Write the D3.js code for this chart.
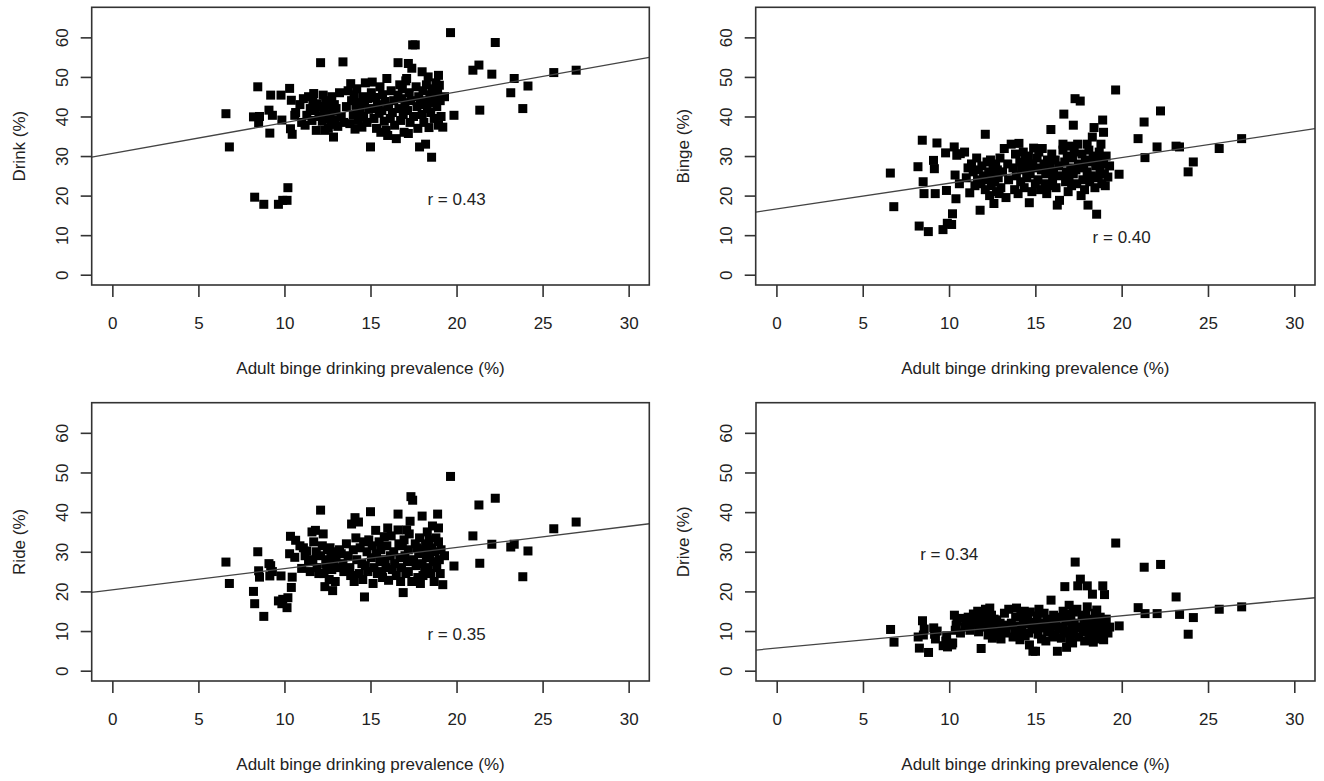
<!DOCTYPE html>
<html>
<head>
<meta charset="utf-8">
<script src="https://cdn.jsdelivr.net/npm/d3@7"></script>
<style>
  body { margin: 0; background: #fff; }
  svg text { font-family: "Liberation Sans", Arial, sans-serif; fill: #222; }
</style>
</head>
<body>
<svg id="chart" width="1324" height="781"></svg>
<script>
// ---- data ----
const prevalence = [
  6.6, 6.8, 8.2, 8.27, 8.45, 8.5, 8.55, 8.8, 9.1, 9.15, 9.2, 9.3, 9.65, 9.8, 9.85, 9.9, 10.15, 10.2, 10.3, 10.35, 10.4, 10.45, 10.6, 10.65,
  10.9, 11.0, 11.1, 11.2, 11.3, 11.4, 11.5, 11.6, 11.65, 11.7, 11.8, 11.85, 11.9, 12.0,
  12.1, 12.1, 12.2, 12.25, 12.3, 12.35, 12.4, 12.45, 12.5, 12.55, 12.6, 12.65, 12.7, 12.75, 12.8, 12.85, 12.9, 12.95, 13.0, 13.1, 13.2, 13.3, 13.4, 13.45,
  13.6, 13.7, 13.8, 13.85, 13.9, 14.0, 14.05, 14.1, 14.15, 14.2, 14.3, 14.35, 14.4, 14.5, 14.55, 14.6, 14.65, 14.7, 14.8, 14.85, 14.9, 15.0,
  15.05, 15.1, 15.15, 15.2, 15.3, 15.35, 15.4, 15.5, 15.55, 15.6, 15.66, 15.7, 15.8, 15.85, 15.9, 15.95, 16.0, 16.05, 16.15, 16.2, 16.27, 16.35, 16.4, 16.5,
  16.6, 16.6, 16.65, 16.7, 16.75, 16.8, 16.85, 16.9, 16.95, 17.0, 17.05, 17.1, 17.15, 17.2, 17.2, 17.25, 17.3, 17.35, 17.4, 17.45, 17.5, 17.6, 17.65, 17.7, 17.75, 17.8, 17.85, 17.9,
  18.0, 18.0, 18.05, 18.1, 18.15, 18.2, 18.25, 18.3, 18.35, 18.4, 18.45, 18.5, 18.55, 18.6, 18.65, 18.7, 18.75, 18.8, 18.85, 18.9, 18.95, 18.95, 19.0, 19.05, 19.1, 19.2, 19.3,
  19.65, 19.85, 20.95, 21.3, 21.35, 22.05, 22.25, 23.15, 23.35, 23.85, 24.15, 25.65, 26.95
];
const drink = [
  40.7, 32.3, 39.9, 19.6, 47.5, 38.4, 40.0, 17.8, 41.6, 35.8, 45.4, 40.3, 17.8, 45.4, 39.1, 18.8, 18.8, 22.0, 47.1, 36.9, 44.1, 35.5, 40.3, 41.0,
  43.0, 38.5, 44.5, 37.8, 40.3, 45.0, 42.0, 39.0, 44.0, 45.8, 41.5, 36.5, 43.2, 40.0,
  53.6, 42.5, 38.8, 45.4, 41.0, 36.5, 44.0, 39.5, 42.8, 37.0, 43.5, 40.5, 38.0, 45.0, 41.5, 34.8, 43.0, 39.2, 42.0, 37.5, 46.0, 40.0, 53.8, 38.5,
  42.5, 46.5, 38.2, 48.3, 44.0, 40.5, 45.5, 36.8, 42.8, 47.0, 39.0, 43.5, 41.0, 37.3, 45.0, 40.0, 43.0, 48.5, 38.5, 44.5, 41.8, 32.3,
  46.0, 48.7, 42.0, 39.5, 44.8, 37.0, 43.0, 40.8, 47.5, 36.0, 41.5, 45.5, 38.8, 43.8, 36.5, 49.6, 35.2, 42.5, 39.5, 46.5, 41.0, 44.0, 37.8, 34.4,
  53.6, 45.4, 42.0, 48.0, 39.0, 44.5, 47.0, 40.5, 36.0, 43.5, 49.0, 49.6, 41.5, 35.7, 53.4, 46.0, 38.5, 44.0, 52.2, 58.1, 40.0, 58.1, 47.5, 42.5, 37.0, 45.0, 32.3, 43.0,
  51.3, 40.5, 46.5, 38.5, 44.0, 33.0, 48.0, 42.0, 50.0, 37.2, 45.5, 41.0, 29.7, 47.0, 43.5, 39.5, 44.1, 48.5, 42.5, 46.0, 37.8, 50.4, 47.9, 44.0, 40.0, 37.3, 45.0,
  61.2, 40.3, 51.7, 53.0, 41.6, 50.7, 58.7, 46.0, 49.6, 42.0, 47.7, 51.1, 51.7
];
const binge = [
  25.7, 17.2, 27.3, 12.3, 34.0, 23.5, 20.5, 10.9, 28.9, 26.8, 20.5, 33.3, 11.4, 30.8, 21.3, 13.0, 12.7, 15.4, 32.3, 25.2, 19.2, 30.2, 23.0, 30.6,
  31.0, 24.5, 27.0, 20.7, 28.0, 26.0, 22.5, 29.5, 24.0, 26.5, 16.3, 23.0, 27.5, 25.0,
  35.5, 21.5, 28.5, 24.0, 26.0, 20.0, 29.0, 22.5, 25.5, 27.5, 18.0, 23.5, 28.0, 21.0, 26.5, 24.5, 20.5, 29.5, 22.0, 26.0, 31.9, 19.5, 28.0, 24.0,
  33.0, 27.0, 21.5, 30.5, 25.0, 20.5, 33.2, 28.5, 23.5, 26.5, 31.0, 22.0, 29.5, 24.5, 27.5, 30.0, 18.2, 25.5, 21.0, 28.0, 32.0, 23.0,
  27.0, 29.5, 24.0, 31.0, 21.5, 26.5, 31.9, 28.0, 23.0, 25.5, 20.5, 29.0, 22.5, 27.0, 36.7, 30.5, 24.0, 26.0, 29.0, 22.0, 17.6, 27.5, 18.8, 25.0,
  31.5, 33.0, 40.6, 28.5, 23.5, 26.0, 30.0, 21.0, 24.5, 32.5, 27.0, 22.5, 29.5, 37.8, 25.5, 31.0, 44.5, 26.5, 23.0, 33.0, 28.0, 43.9, 20.0, 30.5, 24.0, 27.0, 21.5, 29.0,
  33.0, 26.0, 17.6, 31.5, 23.5, 28.5, 25.0, 34.8, 30.0, 37.2, 22.0, 27.5, 15.3, 29.0, 24.5, 31.0, 26.0, 33.0, 23.0, 39.1, 28.0, 36.0, 25.5, 22.5, 30.0, 24.7, 27.5,
  46.7, 25.4, 34.4, 38.6, 29.6, 32.3, 41.4, 32.5, 32.3, 26.0, 28.5, 31.9, 34.4
];
const ride = [
  27.4, 22.0, 20.0, 16.9, 30.0, 25.2, 23.6, 13.7, 27.0, 23.9, 26.5, 25.0, 17.6, 23.9, 16.9, 18.0, 15.9, 18.4, 29.5, 33.9, 21.0, 23.6, 28.6, 32.9,
  31.5, 25.8, 31.0, 29.0, 30.2, 27.5, 25.0, 35.0, 28.0, 32.5, 35.4, 30.0, 26.0, 24.5,
  40.5, 29.0, 31.5, 34.5, 24.5, 21.2, 27.0, 26.0, 30.5, 28.0, 23.0, 31.0, 29.5, 25.5, 20.2, 27.0, 30.0, 22.5, 28.5, 26.0, 30.5, 29.5, 27.0, 25.0,
  32.0, 29.0, 26.0, 24.0, 37.0, 30.5, 22.5, 38.6, 33.5, 28.0, 37.5, 24.5, 31.0, 27.0, 23.0, 32.5, 18.6, 26.5, 30.0, 25.0, 33.0, 40.1,
  28.5, 31.5, 22.0, 26.0, 35.4, 29.5, 24.5, 32.5, 27.5, 30.5, 25.0, 23.5, 33.8, 28.0, 26.0, 31.5, 36.0, 22.8, 29.0, 34.0, 25.5, 30.0, 27.0, 24.0,
  39.5, 35.5, 32.0, 28.5, 22.5, 26.0, 31.5, 19.7, 33.0, 29.0, 24.5, 35.5, 27.5, 30.5, 25.0, 34.5, 37.7, 43.9, 22.5, 43.0, 28.0, 32.0, 26.5, 31.0, 23.5, 29.5, 33.5, 22.0,
  39.0, 27.0, 24.0, 30.5, 25.5, 32.0, 28.5, 35.0, 26.0, 33.0, 29.0, 24.5, 31.0, 36.5, 27.5, 22.5, 30.0, 33.5, 26.0, 39.5, 36.0, 32.5, 28.0, 24.5, 30.5, 21.7, 29.0,
  49.0, 26.4, 34.0, 41.8, 27.1, 31.9, 43.5, 31.2, 31.9, 23.7, 30.2, 35.8, 37.5
];
const drive = [
  10.4, 7.2, 8.5, 5.7, 12.6, 9.0, 10.5, 4.6, 10.8, 9.2, 8.0, 10.0, 6.3, 7.5, 8.8, 6.0, 6.5, 7.0, 14.0, 10.2, 11.5, 12.5, 13.2, 9.5,
  11.0, 12.8, 13.5, 10.2, 12.0, 14.3, 13.0, 11.8, 15.0, 9.8, 12.5, 5.6, 14.5, 13.2,
  15.5, 11.0, 13.8, 9.0, 12.2, 15.8, 10.5, 14.0, 8.2, 11.5, 13.0, 9.5, 10.0, 12.8, 8.8, 11.0, 9.2, 12.0, 8.0, 10.8, 14.5, 9.5, 11.5, 15.5,
  12.0, 8.5, 10.5, 13.5, 15.8, 9.0, 11.2, 7.8, 14.2, 10.0, 12.5, 15.0, 8.8, 11.8, 13.0, 9.5, 6.5, 14.8, 10.5, 4.9, 12.2, 4.9,
  11.0, 13.8, 9.2, 15.5, 12.0, 8.0, 10.8, 14.5, 11.5, 7.5, 13.0, 9.8, 12.8, 10.0, 17.8, 11.2, 8.5, 14.0, 9.0, 12.5, 4.9, 10.5, 13.5, 8.2,
  15.0, 11.0, 9.5, 21.2, 12.5, 5.9, 14.2, 10.0, 16.5, 8.0, 13.0, 11.5, 7.0, 14.8, 9.2, 12.0, 27.4, 10.8, 15.5, 21.4, 8.5, 23.1, 11.0, 13.8, 9.8, 12.5, 7.5, 14.0,
  21.4, 16.1, 10.5, 8.2, 13.0, 9.0, 12.0, 19.3, 7.2, 11.5, 14.5, 9.5, 15.3, 12.8, 8.0, 10.5, 13.5, 9.0, 11.8, 21.4, 12.2, 7.8, 19.2, 10.0, 13.0, 9.5, 11.0,
  32.2, 11.3, 15.9, 26.1, 14.4, 14.4, 26.8, 18.6, 14.2, 9.2, 13.4, 15.5, 16.1
];
const yTitles = ["Drink (%)", "Binge (%)", "Ride (%)", "Drive (%)"];
const rLabels = ["r = 0.43", "r = 0.40", "r = 0.35", "r = 0.34"];
const rLabelX = [20, 20, 20, 10];
const rLabelY = [19.2, 9.5, 9.3, 29.3];
const lineIntercept = [30.65, 16.6, 20.4, 5.7];
const lineSlope = [0.778, 0.651, 0.534, 0.407];
const xTicks = [0, 5, 10, 15, 20, 25, 30];
const yTicks = [0, 10, 20, 30, 40, 50, 60];
const xLimits = [0, 30];
const yLimits = [0, 65];
const xTitle = "Adult binge drinking prevalence (%)";

// ---- layout ----
const series = [drink, binge, ride, drive];
const boxes = [
  [91.7, 7.3, 649.3, 285],
  [755.7, 7.3, 1315, 285],
  [91.7, 402.7, 649.3, 681],
  [756, 402.7, 1315, 681]
];
const INK = "#333";
const FS = 17;
const expand = l => { const d = (l[1] - l[0]) * 0.04; return [l[0] - d, l[1] + d]; };

const svg = d3.select("#chart");

series.forEach((ys, i) => {
  const [L, T, R, B] = boxes[i];
  const x = d3.scaleLinear().domain(expand(xLimits)).range([L, R]);
  const y = d3.scaleLinear().domain(expand(yLimits)).range([B, T]);
  const g = svg.append("g");

  // points
  g.selectAll("rect.pt")
    .data(prevalence.map((v, j) => [v, ys[j]]))
    .join("rect")
    .attr("class", "pt")
    .attr("x", d => x(d[0]) - 4.5)
    .attr("y", d => y(d[1]) - 4.5)
    .attr("width", 9)
    .attr("height", 9)
    .attr("fill", "#000");

  // regression line across the plot region
  const [d0, d1] = x.domain();
  g.append("line")
    .attr("x1", x(d0)).attr("y1", y(lineIntercept[i] + lineSlope[i] * d0))
    .attr("x2", x(d1)).attr("y2", y(lineIntercept[i] + lineSlope[i] * d1))
    .attr("stroke", "#444").attr("stroke-width", 1.3);

  // box
  g.append("rect")
    .attr("x", L).attr("y", T).attr("width", R - L).attr("height", B - T)
    .attr("fill", "none").attr("stroke", INK).attr("stroke-width", 1.6);

  // x axis
  const xa = g.append("g")
    .attr("transform", `translate(0,${B})`)
    .call(d3.axisBottom(x).tickValues(xTicks).tickSize(12).tickFormat(d3.format("d")));
  xa.select(".domain").remove();
  xa.selectAll(".tick line").attr("stroke", INK).attr("stroke-width", 1.6);
  xa.selectAll(".tick text")
    .attr("y", 37.7).attr("dy", "0.35em")
    .attr("font-size", FS).attr("fill", "#222")
    .style("font-family", "'Liberation Sans', Arial, sans-serif");

  // y axis
  const ya = g.append("g")
    .attr("transform", `translate(${L},0)`)
    .call(d3.axisLeft(y).tickValues(yTicks).tickSize(11).tickFormat(d3.format("d")));
  ya.select(".domain").remove();
  ya.selectAll(".tick line").attr("stroke", INK).attr("stroke-width", 1.6);
  ya.selectAll(".tick text")
    .attr("x", 0).attr("y", 0).attr("dy", "0.35em")
    .attr("text-anchor", "middle")
    .attr("transform", "translate(-30,0) rotate(-90)")
    .attr("font-size", FS).attr("fill", "#222")
    .style("font-family", "'Liberation Sans', Arial, sans-serif");

  // titles
  g.append("text")
    .attr("x", (L + R) / 2).attr("y", B + 83).attr("dy", "0.35em")
    .attr("text-anchor", "middle").attr("font-size", FS)
    .text(xTitle);
  g.append("text")
    .attr("transform", `translate(${L - 72.7},${(T + B) / 2}) rotate(-90)`)
    .attr("dy", "0.35em")
    .attr("text-anchor", "middle").attr("font-size", FS)
    .text(yTitles[i]);

  // correlation label
  g.append("text")
    .attr("x", x(rLabelX[i])).attr("y", y(rLabelY[i])).attr("dy", "0.35em")
    .attr("text-anchor", "middle").attr("font-size", FS)
    .text(rLabels[i]);
});
</script>
</body>
</html>
